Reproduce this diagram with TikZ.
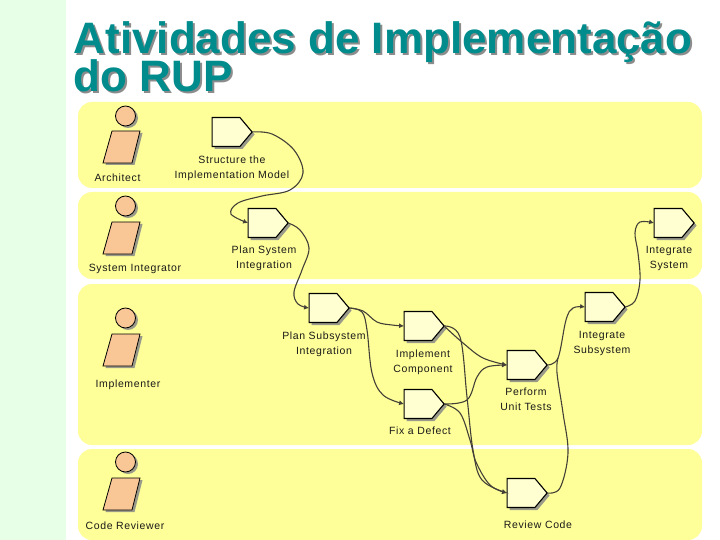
\documentclass[tikz,border=0pt]{standalone}
\usepackage{fontspec}
\setmainfont{Liberation Sans}
\newfontfamily\lab[LetterSpace=6]{Liberation Sans}
\usetikzlibrary{shapes.symbols,arrows.meta}
\definecolor{lane}{HTML}{FFFF99}
\definecolor{strip}{HTML}{E6FFE6}
\definecolor{actbox}{HTML}{FFFFD2}
\definecolor{skin}{HTML}{F9C796}
\definecolor{teal1}{HTML}{008C8C}
\definecolor{shad}{HTML}{9A9A8A}
\tikzset{
 x=1pt,y=-1pt,
 lanebox/.style={fill=lane,rounded corners=14pt,draw=none},
 act/.style={shape=signal,signal to=east,signal pointer angle=100,draw=black,line width=1.1pt,fill=actbox,
   minimum width=40pt,minimum height=29pt,inner sep=0pt,outer sep=0pt},
 actshadow/.style={shape=signal,signal to=east,signal pointer angle=100,fill=shad,
   minimum width=40pt,minimum height=29pt,inner sep=0pt,outer sep=0pt},
 lbl/.style={font=\lab\fontsize{10.5}{15}\selectfont,align=center,text=black!90,inner sep=0pt},
 flow/.style={draw=black!85!yellow,line width=1.1pt,-{Latex[length=5pt,width=5pt]}},
 plain/.style={draw=black!85!yellow,line width=1.1pt},
 head/.style={circle,draw=black,line width=0.8pt,fill=skin,minimum size=20pt,inner sep=0pt},
 titletext/.style={font=\fontsize{44}{44}\selectfont\bfseries,inner sep=0pt,anchor=base west},
}
\newcommand{\activity}[3]{%
 \node[actshadow] at (#2-6+2.5,#3+2.5) {};
 \node[act] (#1) at (#2-6,#3) {};
}
\newcommand{\actor}[3]{% name, head y, body top y
 \path[fill=shad] (114.5,#3+2) -- (142.5,#3+2) -- (134.5,#3+34) -- (105.5,#3+34) -- cycle;
 \node[circle,fill=shad,minimum size=20pt,inner sep=0pt] at (128,#2+2) {};
 \node[head] (#1h) at (125.5,#2) {};
 \draw[fill=skin,line width=0.8pt] (112,#3) -- (140,#3) -- (132,#3+32) -- (103,#3+32) -- cycle;
}
\begin{document}
\begin{tikzpicture}
\useasboundingbox (0,0) rectangle (720,540);
\fill[white] (0,0) rectangle (720,540);
\fill[strip] (0,0) rectangle (66,540);
\fill[lanebox] (78,102) rectangle (702,188);
\fill[lanebox] (78,192) rectangle (702,279);
\fill[lanebox] (78,284) rectangle (702,445);
\fill[lanebox] (78,449) rectangle (702,540);
% title
\node[titletext,text=black!45] at (75.5,56) {Atividades de Implementação};
\node[titletext,text=black!45] at (75.5,94) {do RUP};
\node[titletext,text=teal1] (title1) at (73.5,54) {Atividades de Implementação};
\node[titletext,text=teal1] (title2) at (73.5,92) {do RUP};
% actors
\actor{architect}{116}{131}
\actor{integrator}{206}{222}
\actor{implementer}{318}{334}
\actor{reviewer}{462}{478}
% activities
\activity{structure}{232}{132}
\activity{plansys}{268}{223}
\activity{plansub}{329}{308}
\activity{implement}{424}{326}
\activity{fix}{424}{404}
\activity{perform}{527}{365}
\activity{review}{527}{493}
\activity{intsub}{605}{307}
\activity{intsys}{674}{223}
% connectors
\draw[flow] plot[smooth,tension=.6] coordinates {(structure.east) (272,134) (294,150) (303,173) (290,190) (262,196) (238,203) (231,214) (plansys.west)};
\draw[flow] plot[smooth,tension=.6] coordinates {(plansys.east) (300,230) (309,248) (302,270) (294,292) (298,304) (plansub.west)};
\draw[flow] plot[smooth,tension=.6] coordinates {(plansub.east) (363,311) (377,322) (392,325) (implement.west)};
\draw[flow] plot[smooth,tension=.6] coordinates {(plansub.east) (362,312) (367,330) (372,373) (383,395) (fix.west)};
\draw[flow] plot[smooth,tension=.6] coordinates {(implement.east) (463,343) (483,358) (perform.west)};
\draw[flow] plot[smooth,tension=.6] coordinates {(implement.east) (460,337) (467,397) (473,450) (482,480) (review.west)};
\draw[flow] plot[smooth,tension=.6] coordinates {(fix.east) (467,400) (477,377) (487,367) (perform.west)};
\draw[flow] plot[smooth,tension=.6] coordinates {(fix.east) (460,413) (470,440) (476,462) (490,485) (review.west)};
\draw[flow] plot[smooth,tension=.6] coordinates {(perform.east) (558,358) (566,320) (573,308) (intsub.west)};
\draw[plain] plot[smooth,tension=.6] coordinates {(review.east) (560,488) (568,453) (563,413) (557,373) (558,358)};
\draw[flow] plot[smooth,tension=.6] coordinates {(intsub.east) (635,301) (640,280) (638,253) (635,233) (640,222) (intsys.west)};
% labels
\node[lbl] (larch) at (117.5,177.7) {Architect};
\node[lbl] (lstruct) at (232,168) {Structure the\\Implementation Model};
\node[lbl] (lint) at (135,268.7) {System Integrator};
\node[lbl] (lplansys) at (264,258) {Plan System\\Integration};
\node[lbl] (limpl) at (128,384.7) {Implementer};
\node[lbl] (lplansub) at (324,344.5) {Plan Subsystem\\Integration};
\node[lbl] (limp) at (423,362) {Implement\\Component};
\node[lbl] (lfix) at (420,430.7) {Fix a Defect};
\node[lbl] (lperf) at (526,399.5) {Perform\\Unit Tests};
\node[lbl] (lrev) at (538,524.7) {Review Code};
\node[lbl] (lintsub) at (602,343) {Integrate\\Subsystem};
\node[lbl] (lintsys) at (669,258) {Integrate\\System};
\node[lbl] (lcode) at (125,525.7) {Code Reviewer};
\end{tikzpicture}
\end{document}
